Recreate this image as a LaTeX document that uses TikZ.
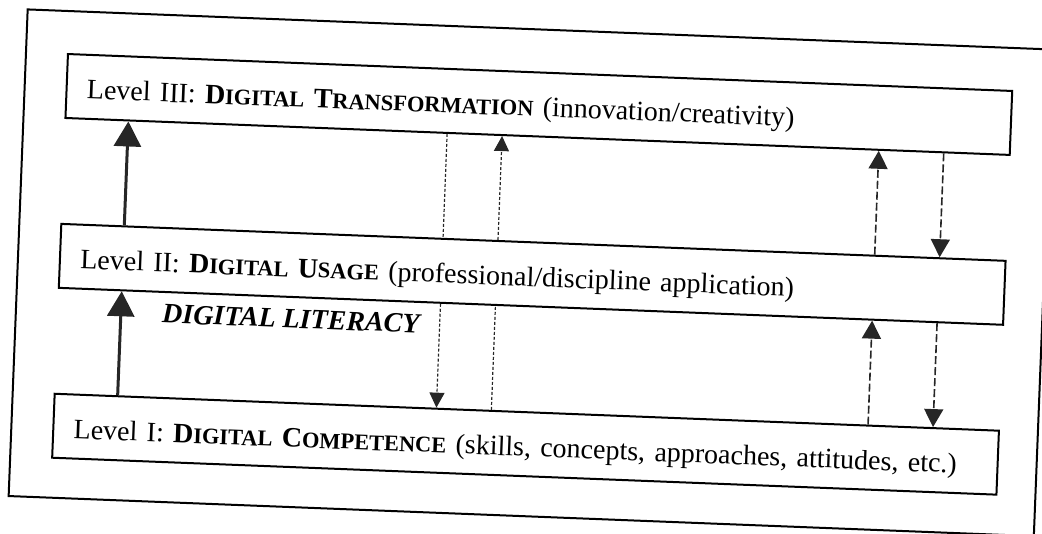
\documentclass[tikz,border=0pt]{standalone}
\usepackage{fontspec}
\setmainfont{Liberation Serif}
\usetikzlibrary{arrows.meta}
\usetikzlibrary{calc}

\newcommand{\smc}[1]{{\fontsize{11.2}{13}\selectfont #1}}

\begin{document}
\begin{tikzpicture}[x=0.5pt,y=-0.5pt]

\useasboundingbox (0,0) rectangle (1042,534);

\begin{scope}[shift={(67,53)},rotate=-2.24,transform shape]

    % frame round the whole figure
    \draw[line width=1pt] (-41,-42) rectangle (985,445);

\begin{scope}[
    every node/.style={
        draw,
        line width=1pt,
        anchor=north west,
        minimum height=32pt,
        text width=452pt,
        inner xsep=10.25pt,
        text height=12pt,
        text depth=0pt,
        align=left,
        font=\fontsize{14}{16}\selectfont}]

    \node (level3) at (0,0) {Level III: \textbf{D\smc{IGITAL} T\smc{RANSFORMATION}} (innovation/creativity)};
    \node (level2) at (0,170) {Level II: \textbf{D\smc{IGITAL} U\smc{SAGE}} (professional/discipline application)};
    \node (level1) at (0,340) {Level I: \textbf{D\smc{IGITAL} C\smc{OMPETENCE}} (skills, concepts, approaches, attitudes, etc.)};
\end{scope}

    \node[anchor=base west, inner sep=0pt,
          font=\fontsize{14}{16}\selectfont\bfseries\itshape] (literacy) at (105,266) {DIGITAL LITERACY};


\begin{scope}[every edge/.style={draw=black!85}]

    % thick arrows on the left
    \path [-{Triangle[length=12.5pt,width=13.5pt]}] ($(level2.north west)+(64,0)$) edge[line width=1.5pt] ($(level3.south west)+(64,0)$);
    \path [-{Triangle[length=12.5pt,width=13.5pt]}] ($(level1.north west)+(64,0)$) edge[line width=1.5pt] ($(level2.south west)+(64,0)$);

    % dotted lines through level II
    \path ($(level3.south west)+(383,0)$) edge[line width=0.6pt,dash pattern=on 1.5pt off 1pt] ($(level2.north west)+(383,0)$);
    \path [-{Triangle[length=7.5pt,width=7.5pt]}] ($(level2.south west)+(383,0)$) edge[line width=0.6pt,dash pattern=on 1.5pt off 1pt] ($(level1.north west)+(383,0)$);
    \path ($(level1.north west)+(438,0)$) edge[line width=0.6pt,dash pattern=on 1.5pt off 1pt] ($(level2.south west)+(438,0)$);
    \path [-{Triangle[length=7.5pt,width=7.5pt]}] ($(level2.north west)+(438,0)$) edge[line width=0.6pt,dash pattern=on 1.5pt off 1pt] ($(level3.south west)+(438,0)$);

    % dashed arrows on the right
    \path [-{Triangle[length=9pt,width=9.5pt]}] ($(level2.north west)+(815,0)$) edge[line width=0.8pt,dash pattern=on 4pt off 1.5pt] ($(level3.south west)+(815,0)$);
    \path [-{Triangle[length=9pt,width=9.5pt]}] ($(level1.north west)+(815,0)$) edge[line width=0.8pt,dash pattern=on 4pt off 1.5pt] ($(level2.south west)+(815,0)$);
    \path [-{Triangle[length=9pt,width=9.5pt]}] ($(level3.south west)+(880,0)$) edge[line width=0.8pt,dash pattern=on 4pt off 1.5pt] ($(level2.north west)+(880,0)$);
    \path [-{Triangle[length=9pt,width=9.5pt]}] ($(level2.south west)+(880,0)$) edge[line width=0.8pt,dash pattern=on 4pt off 1.5pt] ($(level1.north west)+(880,0)$);

\end{scope}
\end{scope}
\end{tikzpicture}
\end{document}
